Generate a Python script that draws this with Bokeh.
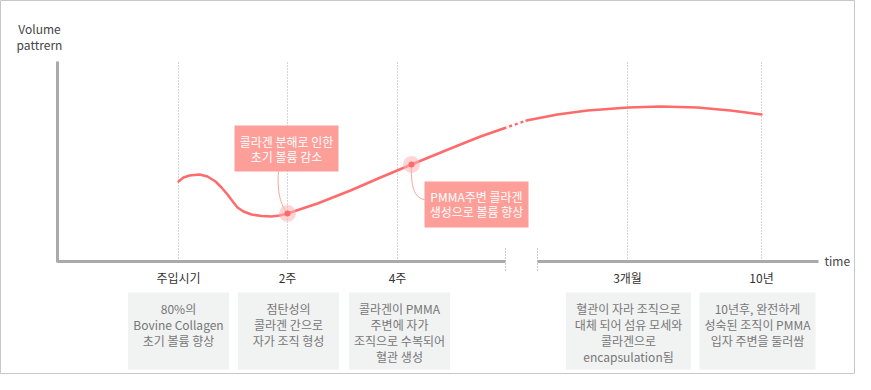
from bokeh.plotting import figure
from bokeh.models import Range1d
from bokeh.core.properties import value
from bokeh.embed import file_html
from bokeh.resources import INLINE

FONT = value("Noto Sans CJK KR")

# ---- data ----
stages = ["주입시기", "2주", "4주", "3개월", "10년"]
stage_t = [121, 230, 340, 570, 704]
descriptions = [
    ["80%의", "Bovine Collagen", "초기 볼륨 향상"],
    ["점탄성의", "콜라겐 간으로", "자가 조직 형성"],
    ["콜라겐이 PMMA", "주변에 자가", "조직으로 수복되어", "혈관 생성"],
    ["혈관이 자라 조직으로", "대체 되어 섬유 모세와", "콜라겐으로", "encapsulation됨"],
    ["10년후, 완전하게", "성숙된 조직이 PMMA", "입자 주변을 둘러쌈"],
]
desc_box_w = [101, 101, 101, 125, 116]

early_t = [121, 126, 132, 142, 150, 158, 164, 170, 176, 180, 186, 194, 204, 214, 222,
           230, 260, 293, 323, 354, 393, 423, 446]
early_v = [80, 84, 86, 87, 85, 80, 74, 67, 59, 54, 50, 47, 45.5, 45, 46,
           48, 58, 71, 84, 97, 113, 125, 133]
gap_t = [446, 469]
gap_v = [133, 141]
late_t = [469, 500, 530, 571, 603, 640, 673, 704]
late_v = [141, 147, 151, 154, 155, 154, 151, 147]

callout_texts = [["콜라겐 분해로 인한", "초기 볼륨 감소"],
                 ["PMMA주변 콜라겐", "생성으로 볼륨 향상"]]
callout_t = [230, 354]
callout_v = [48, 97]

axis_break = [448, 480]
t_end = 761
v_top = 200

# ---- figure ----
p = figure(width=855, height=374, output_backend="svg", toolbar_location=None,
           x_range=Range1d(-57, 798), y_range=Range1d(-113, 261),
           x_axis_location=None, y_axis_location=None, min_border=0)
p.xgrid.grid_line_color = None
p.ygrid.grid_line_color = None
p.outline_line_color = "#c8c8c8"
p.background_fill_color = "white"
p.border_fill_color = "white"

# dotted vertical guides
for t in stage_t:
    p.line([t, t], [0, v_top], line_color="#aaaaaa", line_width=1, line_dash="1 2")
for t in axis_break:
    p.line([t, t], [13, -10], line_color="#999999", line_width=1, line_dash="1 2")

# axes
p.line([0, 0], [-1, v_top], line_color="#aaaaaa", line_width=3)
p.line([0, axis_break[0]], [0, 0], line_color="#aaaaaa", line_width=3)
p.line([axis_break[1], t_end], [0, 0], line_color="#aaaaaa", line_width=3)

p.text(x=[-18, -18], y=[233, 217], text=["Volume", "pattrern"], text_font=FONT,
       text_font_size="12px", text_align="center", text_baseline="middle", text_color="#444444")
p.text(x=[767], y=[1], text=["time"], text_font=FONT, text_font_size="12px",
       text_align="left", text_baseline="middle", text_color="#444444")

# curve
CURVE = "#ff6b6b"
p.line(early_t, early_v, line_color=CURVE, line_width=2.5, line_join="round", line_cap="round")
p.line(gap_t, gap_v, line_color=CURVE, line_width=2.5, line_dash="3 3")
p.line(late_t, late_v, line_color=CURVE, line_width=2.5, line_join="round", line_cap="round")

# callouts
CALL = "#fe9e99"
p.quad(left=[callout_t[0] - 53], right=[callout_t[0] + 51], top=[136], bottom=[90],
       fill_color=CALL, line_color=None)
p.quad(left=[callout_t[1] + 13], right=[callout_t[1] + 117], top=[80], bottom=[34],
       fill_color=CALL, line_color=None)
p.bezier(x0=[callout_t[0] - 9], y0=[90], cx0=[callout_t[0] - 11], cy0=[66],
         cx1=[callout_t[0] - 5], cy1=[54], x1=[callout_t[0]], y1=[callout_v[0]],
         line_color="#f7a5a0", line_width=1)
p.bezier(x0=[callout_t[1]], y0=[callout_v[1] - 2], cx0=[callout_t[1] - 1], cy0=[71],
         cx1=[callout_t[1] + 5], cy1=[63], x1=[callout_t[1] + 13], y1=[62],
         line_color="#f7a5a0", line_width=1)
p.text(x=[callout_t[0] - 1] * 2, y=[120, 105], text=callout_texts[0], text_font=FONT,
       text_font_size="12px", text_align="center", text_baseline="middle", text_color="white")
p.text(x=[callout_t[1] + 65] * 2, y=[65, 50], text=callout_texts[1], text_font=FONT,
       text_font_size="12px", text_align="center", text_baseline="middle", text_color="white")

p.scatter(callout_t, callout_v, size=17, fill_color="#ffb3b3", fill_alpha=0.55, line_color=None)
p.scatter(callout_t, callout_v, size=6, fill_color=CURVE, line_color=None)

# stage labels and description boxes
centers = [121, 231, 342, 571, 700]
p.text(x=stage_t, y=[-16] * len(stages), text=stages, text_font=FONT, text_font_size="12px",
       text_align="center", text_baseline="middle", text_color="#333333")
for c, w, lines in zip(centers, desc_box_w, descriptions):
    p.quad(left=[c - w / 2], right=[c + w / 2], top=[-31], bottom=[-108],
           fill_color="#f1f2f2", line_color=None)
    ys = [-47 - 16 * i for i in range(len(lines))]
    p.text(x=[c] * len(lines), y=ys, text=lines, text_font=FONT, text_font_size="12px",
           text_align="center", text_baseline="middle", text_color="#777777")

open("out.html", "w").write(file_html(p, INLINE))
